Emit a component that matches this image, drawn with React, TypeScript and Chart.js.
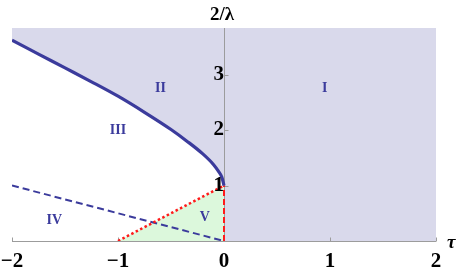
import { useEffect, useRef } from 'react';
import { Chart, registerables } from 'chart.js';
Chart.register(...registerables);

const tauMin = -2;
const tauMax = 2;
const lambdaMax = 3.84;
const xTicks = [-2, -1, 0, 1, 2];
const yTicks = [1, 2, 3];

// boundary curve between region II and III
const boundaryTau = [-2, -1.75, -1.5, -1.25, -1, -0.75, -0.5, -0.35, -0.2, -0.1, -0.05, -0.02, 0];
const boundaryVal = [3.62, 3.37, 3.12, 2.87, 2.61, 2.32, 2.01, 1.8, 1.57, 1.38, 1.25, 1.15, 1];
// region I / II shading (above the boundary, plus tau > 0)
const shadeTau = [...boundaryTau, 0, 2];
const shadeVal = [...boundaryVal, 0, 0];
// blue dashed line
const dashedTau = [-2, 0];
const dashedVal = [1, 0];
// red dotted line
const dottedTau = [-1, 0];
const dottedVal = [0, 1];
// red dashed vertical
const verticalTau = [0, 0];
const verticalVal = [0, 1];

const regionNames = ['I', 'II', 'III', 'IV', 'V'];
const regionTau = [0.95, -0.6, -1.0, -1.6, -0.18];
const regionVal = [2.76, 2.76, 2.0, 0.38, 0.43];

const pts = (xs: number[], ys: number[]) => xs.map((x, i) => ({ x, y: ys[i] }));

const BLUE = '#3b3b9c';
const RED = '#ff1a1a';
const SERIF = '"Liberation Serif", "DejaVu Serif", serif';

const overlay = {
  id: 'overlay',
  afterDatasetDraw(chart: any, args: any) {
    if (args.index !== 1) return;
    const { ctx, scales } = chart;
    const x = scales.x;
    const y = scales.y;
    const x0 = Math.round(x.getPixelForValue(0)) + 0.5;
    const y0 = Math.round(y.getPixelForValue(0)) + 0.5;
    ctx.save();
    ctx.strokeStyle = '#9c9c9c';
    ctx.lineWidth = 1;
    ctx.beginPath();
    ctx.moveTo(x.getPixelForValue(tauMin), y0);
    ctx.lineTo(x.getPixelForValue(tauMax), y0);
    ctx.moveTo(x0, y0);
    ctx.lineTo(x0, y.getPixelForValue(lambdaMax));
    xTicks.forEach((t) => {
      if (t === 0) return;
      const px = Math.round(x.getPixelForValue(t)) + 0.5;
      ctx.moveTo(px, y0);
      ctx.lineTo(px, y0 - 4);
    });
    yTicks.forEach((t) => {
      const py = Math.round(y.getPixelForValue(t)) + 0.5;
      ctx.moveTo(x0, py);
      ctx.lineTo(x0 + 4, py);
    });
    ctx.stroke();
    ctx.restore();
  },
  afterDraw(chart: any) {
    const { ctx, scales } = chart;
    const x = scales.x;
    const y = scales.y;
    ctx.save();
    ctx.fillStyle = '#000';
    ctx.font = `bold 19px ${SERIF}`;
    ctx.textAlign = 'center';
    ctx.textBaseline = 'alphabetic';
    ctx.fillText('2/λ', x.getPixelForValue(0) - 2, 20);
    ctx.font = `italic bold 19px ${SERIF}`;
    ctx.textAlign = 'left';
    ctx.fillText('τ', x.getPixelForValue(tauMax) + 11, y.getPixelForValue(0) + 7);
    ctx.fillStyle = BLUE;
    ctx.font = `bold 14px ${SERIF}`;
    ctx.textAlign = 'center';
    ctx.textBaseline = 'middle';
    regionNames.forEach((n, i) => {
      ctx.fillText(n, x.getPixelForValue(regionTau[i]), y.getPixelForValue(regionVal[i]));
    });
    ctx.restore();
  },
};

export default function App() {
  const ref = useRef<HTMLCanvasElement>(null);
  useEffect(() => {
    if (!ref.current) return;
    const chart = new Chart(ref.current, {
      type: 'line',
      data: {
        datasets: [
          {
            data: pts(shadeTau, shadeVal),
            borderWidth: 0,
            borderColor: 'transparent',
            backgroundColor: '#d9d9eb',
            fill: 'end',
            pointRadius: 0,
            order: 10,
          },
          {
            data: pts(dottedTau, dottedVal),
            borderWidth: 0,
            borderColor: 'transparent',
            backgroundColor: '#dcf8dc',
            fill: 'origin',
            pointRadius: 0,
            order: 9,
          },
          {
            data: pts(dashedTau, dashedVal),
            borderColor: BLUE,
            borderWidth: 2,
            borderDash: [7, 4],
            fill: false,
            pointRadius: 0,
            order: 4,
          },
          {
            data: pts(dottedTau, dottedVal),
            borderColor: RED,
            borderWidth: 2.5,
            borderDash: [2.5, 2.5],
            fill: false,
            pointRadius: 0,
            order: 3,
          },
          {
            data: pts(verticalTau, verticalVal),
            borderColor: RED,
            borderWidth: 2,
            borderDash: [6, 3],
            fill: false,
            pointRadius: 0,
            order: 2,
          },
          {
            data: pts(boundaryTau, boundaryVal),
            borderColor: BLUE,
            borderWidth: 3.2,
            fill: false,
            pointRadius: 0,
            cubicInterpolationMode: 'monotone',
            order: 1,
          },
        ],
      },
      options: {
        animation: false,
        responsive: false,
        events: [],
        layout: { padding: { left: 12, right: 21, top: 28, bottom: 28 } },
        plugins: { legend: { display: false }, tooltip: { enabled: false } },
        scales: {
          x: {
            type: 'linear',
            min: tauMin,
            max: tauMax,
            position: { y: 0 } as any,
            grid: { display: false, drawTicks: false },
            border: { display: false },
            afterBuildTicks: (s: any) => {
              s.ticks = xTicks.map((v) => ({ value: v }));
            },
            afterFit: (s: any) => {
              s.paddingLeft = 0;
              s.paddingRight = 0;
            },
            ticks: {
              z: 1,
              padding: 8,
              color: '#000',
              maxRotation: 0,
              autoSkip: false,
              font: { family: SERIF, size: 21, weight: 'bold' },
              callback: (v: any) => (v < 0 ? '\u2212' + Math.abs(v) : String(v)),
            },
          },
          y: {
            type: 'linear',
            min: 0,
            max: lambdaMax,
            position: { x: 0 } as any,
            grid: { display: false, drawTicks: false },
            border: { display: false },
            afterBuildTicks: (s: any) => {
              s.ticks = yTicks.map((v) => ({ value: v }));
            },
            afterFit: (s: any) => {
              s.paddingTop = 0;
              s.paddingBottom = 0;
            },
            ticks: {
              z: 1,
              padding: 8,
              color: '#000',
              autoSkip: false,
              font: { family: SERIF, size: 21, weight: 'bold' },
              callback: (v: any) => String(v),
            },
          },
        },
      },
      plugins: [overlay],
    });
    return () => chart.destroy();
  }, []);
  return (
    <div style={{ position: 'fixed', left: 0, top: 0, width: 457, height: 269, background: '#fff' }}>
      <canvas ref={ref} width={457} height={269} />
    </div>
  );
}
